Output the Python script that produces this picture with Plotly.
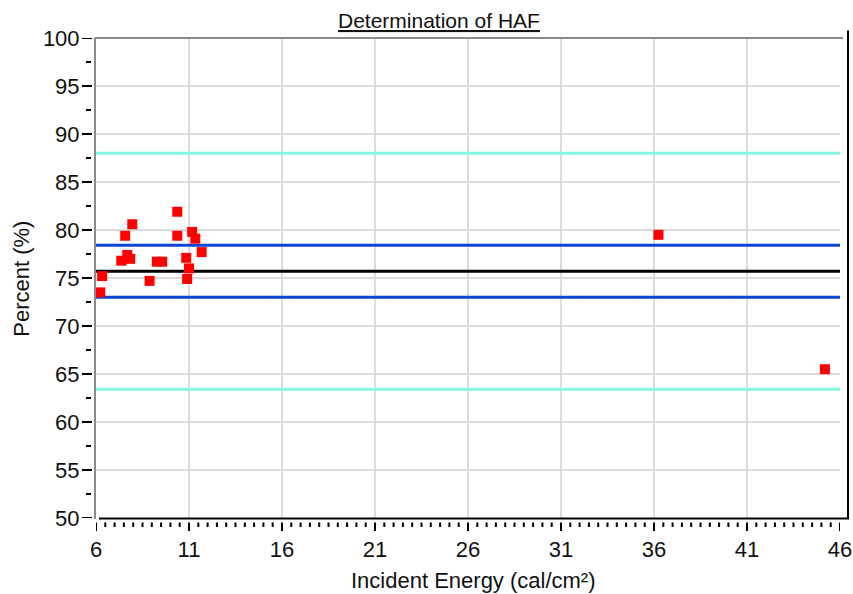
import plotly.graph_objects as go

# Data
energy = [6.23, 6.33, 7.36, 7.57, 7.68, 7.84, 7.95, 8.88, 9.27, 9.56,
          10.37, 10.37, 10.85, 10.90, 11.00, 11.17, 11.34, 11.68, 36.24, 45.19]
percent = [73.5, 75.2, 76.8, 79.4, 77.4, 77.0, 80.6, 74.7, 76.7, 76.7,
           81.9, 79.4, 77.1, 74.9, 76.0, 79.8, 79.1, 77.7, 79.5, 65.5]

ref_names = ["Upper limit", "Upper SD", "Mean", "Lower SD", "Lower limit"]
ref_levels = [88.0, 78.4, 75.7, 73.0, 63.4]
ref_colors = ["#86F7E3", "#0B45D6", "#000000", "#0B45D6", "#86F7E3"]

x_range = [6, 46]
y_range = [50, 100]
x_tick_start, x_tick_step, x_minor_step = 6, 5, 0.5
y_tick_start, y_tick_step, y_minor_step = 50, 5, 2.5

fig = go.Figure()

for name, lvl, col in zip(ref_names, ref_levels, ref_colors):
    fig.add_trace(go.Scatter(x=[x_range[0], x_range[1]], y=[lvl, lvl], mode="lines",
                             line=dict(color=col, width=3), name=name,
                             hoverinfo="skip", cliponaxis=False))

fig.add_trace(go.Scatter(x=energy, y=percent, mode="markers",
                         marker=dict(symbol="square", size=10, color="#FF0000", line=dict(width=0)),
                         name="Data", cliponaxis=False))

# body margin removed in post_script -> figure fills the window
W, H = 853, 594
L = 96
T = 37.5
R = W - 840
B = H - 518
pw, ph = W - L - R, H - T - B

def px(xp):
    return (xp - L) / pw

def py(yp):
    return 1 - (yp - T) / ph

FONT = "Liberation Sans"

shapes = [
    dict(type="line", xref="paper", yref="paper", x0=px(95), x1=px(843), y0=py(37.5), y1=py(37.5),
         line=dict(color="#8a8a8a", width=2)),
    dict(type="line", xref="paper", yref="paper", x0=px(95), x1=px(95), y0=py(37), y1=py(519),
         line=dict(color="#8a8a8a", width=2)),
    dict(type="line", xref="paper", yref="paper", x0=px(848), x1=px(848), y0=py(30), y1=py(519),
         line=dict(color="#000000", width=2)),
    dict(type="line", xref="paper", yref="paper", x0=px(99), x1=px(849), y0=py(518.5), y1=py(518.5),
         line=dict(color="#000000", width=2)),
]

# tick marks (detached from the frame, as in the original)
n_x = int(round((x_range[1] - x_range[0]) / x_minor_step))
for i in range(n_x + 1):
    v = x_range[0] + i * x_minor_step
    major = (i % int(round(x_tick_step / x_minor_step))) == 0
    shapes.append(dict(type="line", xref="x", yref="paper", x0=v, x1=v,
                       y0=py(522.5), y1=py(531 if major else 527),
                       line=dict(color="#000000", width=2)))
n_y = int(round((y_range[1] - y_range[0]) / y_minor_step))
for i in range(n_y + 1):
    v = y_range[0] + i * y_minor_step
    major = (i % int(round(y_tick_step / y_minor_step))) == 0
    shapes.append(dict(type="line", xref="paper", yref="y", y0=v, y1=v,
                       x0=px(82 if major else 86), x1=px(92 if major else 91),
                       line=dict(color="#000000", width=2)))

fig.update_layout(
    width=W, height=H,
    margin=dict(l=L, r=R, t=T, b=B, autoexpand=False),
    plot_bgcolor="white", paper_bgcolor="white",
    showlegend=False,
    font=dict(family=FONT, color="#111111"),
    annotations=[
        dict(text="<u>Determination of HAF</u>", xref="paper", yref="paper",
             x=px(439), y=py(20), xanchor="center", yanchor="middle", showarrow=False,
             font=dict(family=FONT, size=21, color="#111111")),
        dict(text="Incident Energy (cal/cm²)", xref="paper", yref="paper",
             x=px(473), y=py(581), xanchor="center", yanchor="middle", showarrow=False,
             font=dict(family=FONT, size=22, color="#111111")),
        dict(text="Percent (%)", xref="paper", yref="paper", textangle=-90,
             x=px(22), y=py(278.5), xanchor="center", yanchor="middle", showarrow=False,
             font=dict(family=FONT, size=22, color="#111111")),
    ],
    shapes=shapes,
)

fig.layout.xaxis.update(
    range=x_range, tickmode="linear", tick0=x_tick_start, dtick=x_tick_step,
    showgrid=True, gridcolor="#dcdcdc", gridwidth=2,
    zeroline=False, showline=False, automargin=False,
    ticks="outside", ticklen=12, tickwidth=2, tickcolor="rgba(0,0,0,0)",
    tickfont=dict(family=FONT, size=22, color="#111111"),
)

fig.layout.yaxis.update(
    range=y_range, tickmode="linear", tick0=y_tick_start, dtick=y_tick_step,
    showgrid=True, gridcolor="#dcdcdc", gridwidth=2,
    zeroline=False, showline=False, automargin=False,
    ticks="outside", ticklen=11, tickwidth=2, tickcolor="rgba(0,0,0,0)",
    tickfont=dict(family=FONT, size=22, color="#111111"),
)

fig.write_html("out.html",
               config={"displayModeBar": False},
               post_script="document.body.style.margin='0';"
                           "document.documentElement.style.overflow='hidden';"
                           "document.body.style.overflow='hidden';")
